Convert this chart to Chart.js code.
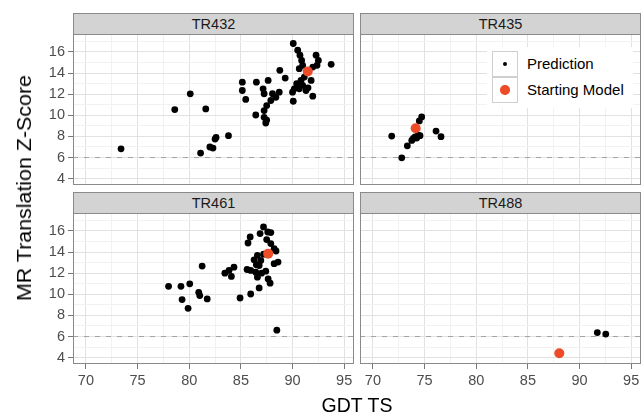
<!DOCTYPE html>
<html>
<head>
<meta charset="utf-8">
<script src="https://cdn.jsdelivr.net/npm/chart.js@4.4.0/dist/chart.umd.min.js"></script>
<style>
  html, body { margin:0; padding:0; background:#fff; }
  #wrap { position:relative; width:641px; height:415px; overflow:hidden; background:#fff;
          font-family:"Liberation Sans", Arial, Helvetica, sans-serif; }
  canvas { position:absolute; }
  .strip { position:absolute; box-sizing:border-box; background:#d3d3d3; border:1px solid #8a8a8a;
           text-align:center; color:#1a1a1a; font-size:14.5px; line-height:20px; z-index:5; }
  .title { position:absolute; text-align:center; color:#000; font-size:19.5px; white-space:nowrap; z-index:5; }
  #legend { position:absolute; left:487px; top:47px; width:146px; height:61px; background:#fff; z-index:6; }
  .key { position:absolute; left:5px; width:26px; height:26px; box-sizing:border-box; border:1px solid #cfcfcf; background:#fff; }
  .dot { position:absolute; border-radius:50%; }
  .ltxt { position:absolute; left:40px; font-size:15px; color:#000; line-height:26px; white-space:nowrap; }
</style>
</head>
<body>
<div id="wrap"></div>
<script>
// ---------------- data ----------------
const categories = ['TR432', 'TR435', 'TR461', 'TR488'];

const predTR432 = [
  [73.4,6.83],[78.6,10.54],[80.1,12.03],[81.6,10.6],[81.1,6.42],[82.0,7.0],[82.3,6.9],[82.5,7.75],[82.6,7.9],[83.8,8.07],
  [90.07,16.8],[90.5,16.16],[90.72,15.69],[90.88,15.2],[90.98,14.73],[90.65,14.42],[91.14,13.62],[90.82,13.3],
  [90.98,12.83],[90.65,12.51],[90.17,12.51],[90.0,12.19],[91.3,12.35],[91.8,13.3],[91.96,11.81],[90.07,11.33],
  [92.28,15.69],[92.5,15.2],[92.37,14.73],[91.96,14.57],[93.74,14.83],[88.77,14.26],[89.29,13.53],[87.64,13.3],
  [86.5,13.14],[85.14,13.14],[85.14,12.35],[85.47,11.5],[87.15,12.51],[87.25,12.04],[88.06,12.04],[88.71,12.19],
  [88.39,11.71],[87.9,11.4],[87.5,10.92],[87.25,10.45],[86.44,10.03],[87.25,9.81],[87.41,9.27],
  [90.4,13.0],[91.5,12.6],[87.5,9.55]
];
const predTR435 = [
  [74.72,9.85],[74.49,9.47],[74.08,7.95],[73.76,7.62],[74.39,8.13],[73.91,7.81],[74.24,7.84],[74.56,8.07],
  [71.82,8.03],[72.79,5.97],[73.33,7.11],[76.11,8.51],[76.59,7.98]
];
const predTR461 = [
  [87.19,16.38],[86.86,15.75],[87.9,15.85],[85.9,15.43],[85.69,14.86],[87.5,15.18],[87.9,14.8],[88.22,14.32],
  [86.6,13.69],[86.28,13.27],[86.93,13.2],[88.6,13.05],[88.22,12.9],[86.77,12.73],[81.25,12.67],[85.6,12.35],
  [85.95,12.26],[86.44,12.1],[84.33,12.57],[83.85,12.26],[83.45,12.0],[84.08,11.69],[86.6,11.62],[87.41,12.19],
  [87.64,11.46],[87.83,11.05],[86.77,10.6],[85.95,10.03],[84.92,9.65],[78.0,10.76],[79.2,10.76],[80.05,10.99],
  [80.92,10.19],[81.02,9.88],[81.74,9.56],[79.31,9.5],[79.89,8.67],[88.48,6.6],
  [87.2,13.8],[86.5,12.8],[87.0,12.0],[88.4,14.1],[87.6,15.9]
];
const predTR488 = [[91.72,6.38],[92.54,6.23]];

const startTR432 = [[91.47,14.16]];
const startTR435 = [[74.14,8.77]];
const startTR461 = [[87.64,13.85]];
const startTR488 = [[88.04,4.42]];

const xTickLabels = [70, 75, 80, 85, 90, 95];
const yTickLabels = [4, 6, 8, 10, 12, 14, 16];
const thresholdZ = 6;

const seriesPred  = [predTR432, predTR435, predTR461, predTR488];
const seriesStart = [startTR432, startTR435, startTR461, startTR488];

// ---------------- layout / style ----------------
const X_MIN = 68.75, X_MAX = 95.95, Y_MIN = 3.4, Y_MAX = 17.7;
const PW = 281, PH = 151;
const colLeft = [73, 360];
const rowTop = [34, 213];
const RED = '#EE4B28';
const FONT = '"Liberation Sans", Arial, Helvetica, sans-serif';
const TICKFONT = { family: FONT, size: 14.5 };
const wrap = document.getElementById('wrap');

Chart.defaults.font.family = FONT;

const borderPlugin = {
  id: 'panelBorder',
  afterDatasetsDraw(chart) {
    const a = chart.chartArea, c = chart.ctx;
    c.save();
    c.strokeStyle = '#8a8a8a';
    c.lineWidth = 1;
    c.strokeRect(Math.round(a.left) + 0.5, Math.round(a.top) + 0.5,
                 Math.round(a.right - a.left) - 1, Math.round(a.bottom - a.top) - 1);
    c.restore();
  }
};

const toPts = arr => arr.map(p => ({ x: p[0], y: p[1] }));

categories.forEach((name, i) => {
  const row = Math.floor(i / 2), col = i % 2;
  const L = colLeft[col], T = rowTop[row];
  const leftCol = col === 0, bottomRow = row === 1;
  const yW = leftCol ? 73 : 0;
  const padL = leftCol ? 0 : 15;
  const padT = 15, padR = 15;
  const xH = bottomRow ? 34 : 0;
  const padB = bottomRow ? 4 : 15;
  const cw = padL + yW + PW + padR;
  const ch = padT + PH + xH + padB;

  const cv = document.createElement('canvas');
  cv.width = cw; cv.height = ch;
  cv.style.width = cw + 'px'; cv.style.height = ch + 'px';
  cv.style.left = (L - yW - padL) + 'px';
  cv.style.top = (T - padT) + 'px';
  wrap.appendChild(cv);

  // strip header
  const s = document.createElement('div');
  s.className = 'strip';
  s.style.left = L + 'px'; s.style.top = (T - 21) + 'px';
  s.style.width = PW + 'px'; s.style.height = '22px';
  s.textContent = name;
  wrap.appendChild(s);

  const majX = v => xTickLabels.includes(v);
  const majY = v => yTickLabels.includes(v);

  new Chart(cv, {
    type: 'scatter',
    data: {
      datasets: [
        { label: 'Starting Model', data: toPts(seriesStart[i]),
          pointBackgroundColor: RED, backgroundColor: RED, pointBorderWidth: 0, borderWidth: 0, pointRadius: 5 },
        { label: 'Prediction', data: toPts(seriesPred[i]),
          pointBackgroundColor: '#000', backgroundColor: '#000', pointBorderWidth: 0, borderWidth: 0, pointRadius: 3.4 },
        { type: 'line', label: 'threshold', data: [{ x: X_MIN, y: thresholdZ }, { x: X_MAX, y: thresholdZ }],
          borderColor: '#a3a3a3', borderWidth: 1, borderDash: [5, 6], pointRadius: 0, fill: false }
      ]
    },
    options: {
      responsive: false, animation: false, events: [],
      layout: { padding: { left: padL, top: padT, right: padR, bottom: padB } },
      plugins: { legend: { display: false }, tooltip: { enabled: false }, title: { display: false } },
      scales: {
        x: {
          type: 'linear', min: X_MIN, max: X_MAX,
          ticks: { stepSize: 2.5, includeBounds: false, autoSkip: false, maxRotation: 0, minRotation: 0,
                   display: bottomRow, padding: 3, color: '#4d4d4d', font: TICKFONT,
                   callback: v => majX(v) ? String(v) : '' },
          grid: { color: c => majX(c.tick.value) ? '#e2e2e2' : '#f2f2f2', lineWidth: 1,
                  drawTicks: bottomRow, tickLength: 5,
                  tickColor: c => majX(c.tick.value) ? '#777' : 'rgba(0,0,0,0)' },
          border: { display: false },
          afterFit: sc => { sc.height = xH; }
        },
        y: {
          type: 'linear', min: Y_MIN, max: Y_MAX,
          ticks: { stepSize: 1, includeBounds: false, autoSkip: false, display: leftCol, padding: 3,
                   color: '#4d4d4d', font: TICKFONT,
                   callback: v => majY(v) ? String(v) : '' },
          grid: { color: c => majY(c.tick.value) ? '#e2e2e2' : '#f2f2f2', lineWidth: 1,
                  drawTicks: leftCol, tickLength: 5,
                  tickColor: c => majY(c.tick.value) ? '#777' : 'rgba(0,0,0,0)' },
          border: { display: false },
          afterFit: sc => { sc.width = yW; }
        }
      }
    },
    plugins: [borderPlugin]
  });
});

// axis titles
const yt = document.createElement('div');
yt.className = 'title';
yt.style.fontSize = '20px';
yt.style.width = '300px'; yt.style.height = '24px'; yt.style.lineHeight = '24px';
yt.style.left = (24 - 150) + 'px'; yt.style.top = (188 - 12) + 'px';
yt.style.transform = 'rotate(-90deg) scaleX(1.07)';
yt.textContent = 'MR Translation Z-Score';
wrap.appendChild(yt);

const xt = document.createElement('div');
xt.className = 'title';
xt.style.width = '200px'; xt.style.height = '24px'; xt.style.lineHeight = '24px';
xt.style.left = (357 - 100) + 'px'; xt.style.top = (405 - 12) + 'px';
xt.textContent = 'GDT TS';
wrap.appendChild(xt);

// legend
const lg = document.createElement('div');
lg.id = 'legend';
const legendItems = [
  { label: 'Prediction', color: '#000', d: 4.6 },
  { label: 'Starting Model', color: RED, d: 9.4 }
];
legendItems.forEach((it, k) => {
  const key = document.createElement('div');
  key.className = 'key';
  key.style.top = (4 + k * 26) + 'px';
  const dot = document.createElement('div');
  dot.className = 'dot';
  dot.style.width = it.d + 'px'; dot.style.height = it.d + 'px';
  dot.style.background = it.color;
  dot.style.left = (12 - it.d / 2) + 'px'; dot.style.top = (12 - it.d / 2) + 'px';
  key.appendChild(dot);
  lg.appendChild(key);
  const t = document.createElement('div');
  t.className = 'ltxt';
  t.style.top = (4 + k * 26) + 'px';
  t.textContent = it.label;
  lg.appendChild(t);
});
wrap.appendChild(lg);
</script>
</body>
</html>
